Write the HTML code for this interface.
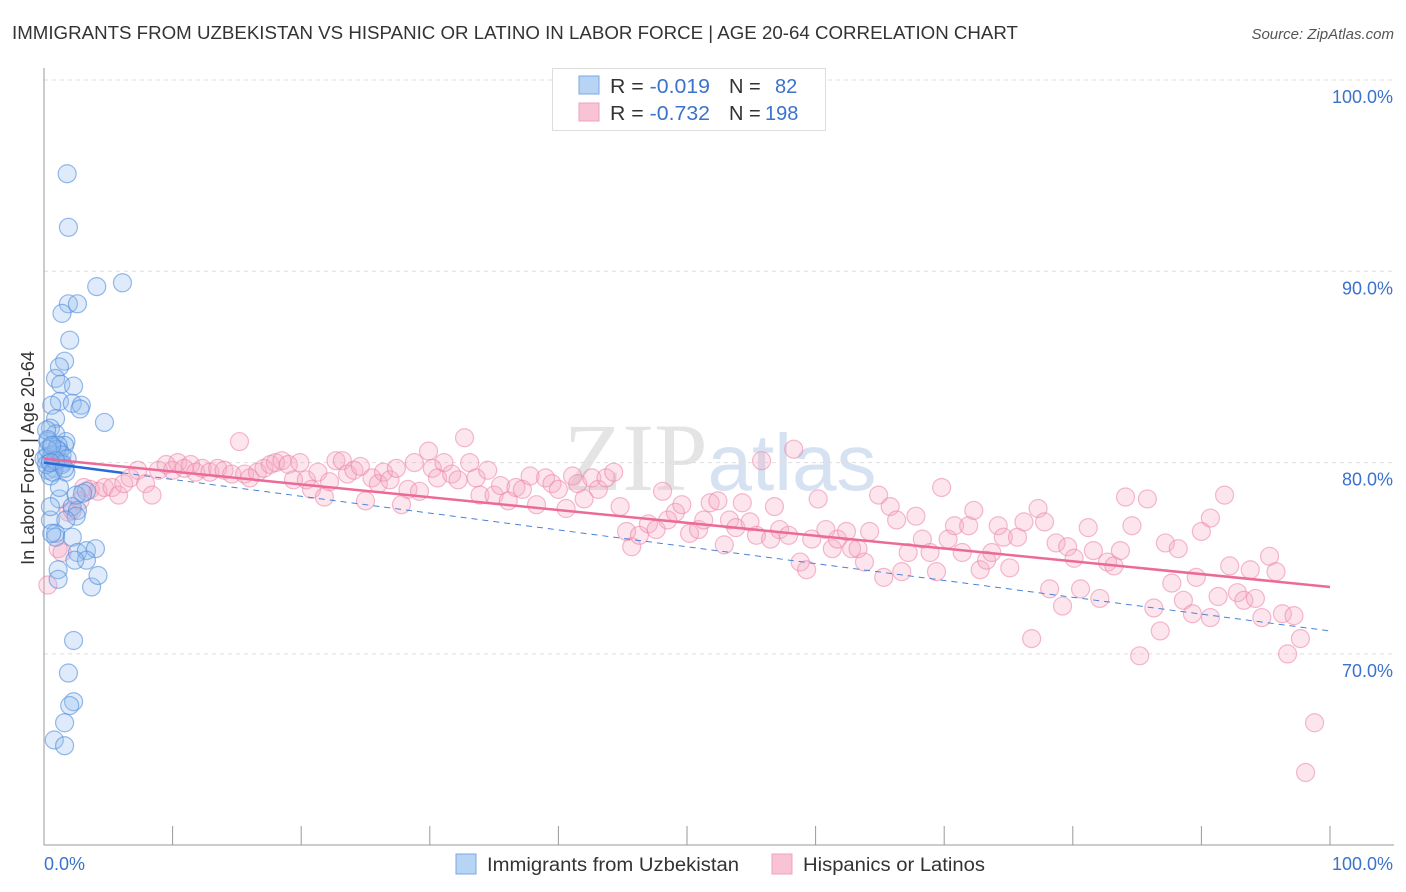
<!DOCTYPE html>
<html><head><meta charset="utf-8">
<style>
body{margin:0;background:#fff;font-family:"Liberation Sans",sans-serif;}
#wrap{position:relative;width:1406px;height:892px;overflow:hidden;}
</style></head>
<body>
<div id="wrap">
<svg id="svg" width="1406" height="892" xmlns="http://www.w3.org/2000/svg">
<text x="12" y="39" font-size="18" fill="#333" textLength="1006" lengthAdjust="spacingAndGlyphs">IMMIGRANTS FROM UZBEKISTAN VS HISPANIC OR LATINO IN LABOR FORCE | AGE 20-64 CORRELATION CHART</text>
<text x="1394" y="39" font-size="15" fill="#555" font-style="italic" text-anchor="end">Source: ZipAtlas.com</text>
<text x="720" y="490" font-size="96" fill="#e4e4e4" text-anchor="middle" font-family="Liberation Serif, serif">ZIP<tspan fill="#d6e2f2" font-family="Liberation Sans, sans-serif" font-size="80">atlas</tspan></text>
<g id="grid"></g>
<g id="axes"></g>
<g id="pts"></g>
<g id="trend"></g>
<g>
<rect x="552.5" y="68.5" width="273" height="62" fill="#fff" stroke="#ddd"/>
<rect x="579" y="76" width="20" height="18" fill="#b8d4f4" stroke="#7aa8e4"/>
<rect x="579" y="103" width="20" height="18" fill="#f8c4d4" stroke="#f0a0bc"/>
<text x="610" y="93" font-size="20" fill="#333"><tspan textLength="100" lengthAdjust="spacingAndGlyphs">R = <tspan fill="#3a72cc">-0.019</tspan></tspan><tspan x="729">N = </tspan><tspan x="775" fill="#3a72cc">82</tspan></text>
<text x="610" y="120" font-size="20" fill="#333"><tspan textLength="100" lengthAdjust="spacingAndGlyphs">R = <tspan fill="#3a72cc">-0.732</tspan></tspan><tspan x="729">N = </tspan><tspan x="765" fill="#3a72cc">198</tspan></text>
</g>
<g>
<rect x="456" y="854" width="20" height="20" fill="#b8d4f4" stroke="#7aa8e4"/>
<text x="487" y="871" font-size="19" fill="#333" textLength="252" lengthAdjust="spacingAndGlyphs">Immigrants from Uzbekistan</text>
<rect x="772" y="854" width="20" height="20" fill="#f8c4d4" stroke="#f0a0bc"/>
<text x="803" y="871" font-size="19" fill="#333" textLength="182" lengthAdjust="spacingAndGlyphs">Hispanics or Latinos</text>
</g>
<text transform="translate(34,458) rotate(-90)" font-size="18" fill="#333" text-anchor="middle">In Labor Force | Age 20-64</text>
</svg>
</div>
<script>
const yTicks=[100,90,80,70];
const yTickLabels=["100.0%","90.0%","80.0%","70.0%"];
const xTickCount=10;
const xLabels=["0.0%","100.0%"];
const blueX=[1.8,1.9,4.1,6.1,1.9,2.6,1.4,2.0,1.6,1.2,0.9,1.3,2.3,1.2,2.2,2.9,2.8,0.6,4.7,0.9,0.5,0.9,1.7,1.6,0.3,0.6,1.2,0.2,0.5,0.9,1.4,0.3,0.8,1.7,0.5,3.3,1.2,2.2,2.6,2.5,0.5,0.9,0.9,2.2,1.1,2.6,3.3,4.0,3.3,2.4,3.7,4.2,2.3,1.9,2.3,2.0,1.6,0.8,1.6,0.5,2.5,3.0,0.2,0.3,1.1,0.6,1.0,0.0,0.2,1.4,1.8,0.7,1.2,1.7,0.6,1.1,1.4,0.3,0.6,0.9,0.5,1.6];
const blueY=[95.1,92.3,89.2,89.4,88.3,88.3,87.8,86.4,85.3,85.0,84.4,84.1,84.0,83.2,83.1,83.0,82.8,83.0,82.1,82.3,81.8,81.5,81.1,80.9,81.1,80.8,80.6,80.3,80.1,80.0,80.0,79.6,79.7,79.5,79.3,78.5,78.1,77.7,77.5,77.2,77.0,76.3,76.1,76.1,74.4,75.3,75.4,75.5,74.9,74.9,73.5,74.1,70.7,69.0,67.5,67.3,66.4,65.5,65.2,77.7,78.3,78.4,81.7,81.2,80.9,80.4,80.7,80.2,79.9,80.4,80.2,79.5,78.7,77.0,76.3,73.9,79.9,80.7,80.9,80.1,80.0,79.7];
const pinkX=[0.3,1.1,1.4,1.9,2.2,2.8,3.1,3.6,4.2,4.7,5.3,5.8,6.2,6.7,7.3,7.9,8.4,8.9,9.5,10.0,10.4,10.9,11.4,11.8,12.3,12.9,13.5,14.0,14.6,15.2,15.6,16.0,16.6,17.1,17.6,18.0,18.5,19.0,19.4,19.9,20.4,20.8,21.3,21.8,22.2,22.7,23.2,23.6,24.1,24.6,25.0,25.5,26.0,26.4,26.9,27.4,27.8,28.3,28.8,29.2,29.9,30.2,30.6,31.1,31.7,32.2,32.7,33.1,33.6,33.9,34.5,35.0,35.5,36.1,36.7,37.2,37.8,38.3,39.0,39.5,40.0,40.6,41.1,41.5,42.0,42.6,43.1,43.7,44.3,44.8,45.3,45.7,46.3,47.0,47.6,48.1,48.5,49.1,49.6,50.2,50.9,51.3,51.8,52.4,52.9,53.3,53.8,54.3,54.9,55.4,55.8,56.5,56.8,57.2,57.9,58.3,58.8,59.3,59.7,60.2,60.8,61.3,61.7,62.4,62.8,63.3,63.8,64.2,64.9,65.3,65.8,66.3,66.7,67.2,67.8,68.3,68.9,69.4,69.8,70.3,70.8,71.4,71.9,72.3,72.8,73.3,73.7,74.2,74.6,75.1,75.7,76.2,76.8,77.3,77.8,78.2,78.7,79.2,79.6,80.1,80.6,81.2,81.6,82.1,82.7,83.2,83.7,84.1,84.6,85.2,85.8,86.3,86.8,87.2,87.7,88.2,88.6,89.3,89.6,90.0,90.7,91.3,91.8,92.2,92.8,93.3,93.8,94.2,94.7,95.3,95.8,96.3,96.7,97.2,97.7,98.1,98.8,90.7];
const pinkY=[73.6,75.5,75.3,77.4,77.5,78.0,78.7,78.6,78.5,78.7,78.7,78.3,78.9,79.2,79.6,78.9,78.3,79.6,79.9,79.6,80.0,79.7,79.9,79.5,79.7,79.5,79.7,79.6,79.4,81.1,79.4,79.2,79.5,79.7,79.9,80.0,80.1,79.9,79.1,80.0,79.1,78.6,79.5,78.2,79.0,80.1,80.1,79.4,79.6,79.8,78.0,79.2,78.9,79.5,79.1,79.7,77.8,78.6,80.0,78.5,80.6,79.7,79.2,80.0,79.4,79.1,81.3,80.0,79.2,78.3,79.6,78.3,78.8,78.0,78.7,78.6,79.3,77.8,79.2,78.9,78.6,77.6,79.3,78.9,78.1,79.2,78.6,79.2,79.5,77.7,76.4,75.6,76.2,76.8,76.5,78.5,77.0,77.4,77.8,76.3,76.5,77.0,77.9,78.0,75.7,77.0,76.6,77.9,76.9,76.2,80.1,76.0,77.7,76.5,76.2,80.7,74.8,74.4,76.0,78.1,76.5,75.5,76.0,76.4,75.5,75.5,74.8,76.4,78.3,74.0,77.7,77.0,74.3,75.3,77.2,76.0,75.3,74.3,78.7,76.0,76.7,75.3,76.7,77.5,74.4,74.9,75.3,76.7,76.1,74.5,76.1,76.9,70.8,77.6,76.9,73.4,75.8,72.5,75.6,75.0,73.4,76.6,75.4,72.9,74.8,74.6,75.4,78.2,76.7,69.9,78.1,72.4,71.2,75.8,73.7,75.5,72.8,72.1,74.0,76.4,77.1,73.0,78.3,74.6,73.2,72.8,74.4,72.9,71.9,75.1,74.3,72.1,70.0,72.0,70.8,63.8,66.4,71.9];
const pinkTrend=[80.2,73.5];   // y at x=0, x=100
const blueTrend=[80.0,71.2];   // y at x=0, x=100
const blueSolidEnd=6.1;

const X0=44,X1=1330,YTOP=80,YBOT=845;
function sx(v){return X0+(X1-X0)*v/100;}
function sy(v){return 80+(100-v)*19.13;}
const NS="http://www.w3.org/2000/svg";
function mk(tag,attrs,parent){const e=document.createElementNS(NS,tag);for(const k in attrs)e.setAttribute(k,attrs[k]);parent.appendChild(e);return e;}
const grid=document.getElementById('grid'),axes=document.getElementById('axes'),pts=document.getElementById('pts'),trend=document.getElementById('trend');
yTicks.forEach((t,i)=>{
  const l=mk('line',{x1:X0,x2:1394,y1:sy(t),y2:sy(t),stroke:'#ddd','stroke-dasharray':'4,4'},grid);
  
  
  const tx=mk('text',{x:1393,y:sy(t)+23,'font-size':18,fill:'#3a72cc','text-anchor':'end'},axes);
  tx.textContent=yTickLabels[i];
  
  
});
const ya=mk('line',{x1:X0,x2:X0,y1:68,y2:YBOT,stroke:'#999'},axes);


const xa=mk('line',{x1:X0,x2:1394,y1:YBOT,y2:YBOT,stroke:'#999'},axes);


for(let i=0;i<=xTickCount;i++){
  const t=mk('line',{x1:sx(i*10),x2:sx(i*10),y1:826,y2:YBOT,stroke:'#999'},axes);
  
  
}
const xl0=mk('text',{x:44,y:870,'font-size':18,fill:'#3a72cc'},axes);xl0.textContent=xLabels[0];


const xl1=mk('text',{x:1393,y:870,'font-size':18,fill:'#3a72cc','text-anchor':'end'},axes);xl1.textContent=xLabels[1];


pinkX.forEach((x,i)=>{
  const c=mk('circle',{cx:sx(x),cy:sy(pinkY[i]),r:9,fill:'rgba(246,168,194,0.3)',stroke:'rgba(236,130,166,0.55)','stroke-width':1.2},pts);
  
  
});
blueX.forEach((x,i)=>{
  const c=mk('circle',{cx:sx(x),cy:sy(blueY[i]),r:9,fill:'rgba(150,190,240,0.3)',stroke:'rgba(80,140,220,0.6)','stroke-width':1.2},pts);
  
  
});
function ty(tr,x){return tr[0]+(tr[1]-tr[0])*x/100;}
const bd=mk('line',{x1:sx(blueSolidEnd),y1:sy(ty(blueTrend,blueSolidEnd)),x2:sx(100),y2:sy(ty(blueTrend,100)),stroke:'#4a82d8','stroke-width':1,'stroke-dasharray':'6,5'},trend);


const pl=mk('line',{x1:sx(0),y1:sy(pinkTrend[0]),x2:sx(100),y2:sy(pinkTrend[1]),stroke:'#ec6a98','stroke-width':2.5},trend);


const bs=mk('line',{x1:sx(0),y1:sy(blueTrend[0]),x2:sx(blueSolidEnd),y2:sy(ty(blueTrend,blueSolidEnd)),stroke:'#2a6ad8','stroke-width':2.5},trend);


</script>
</body></html>
